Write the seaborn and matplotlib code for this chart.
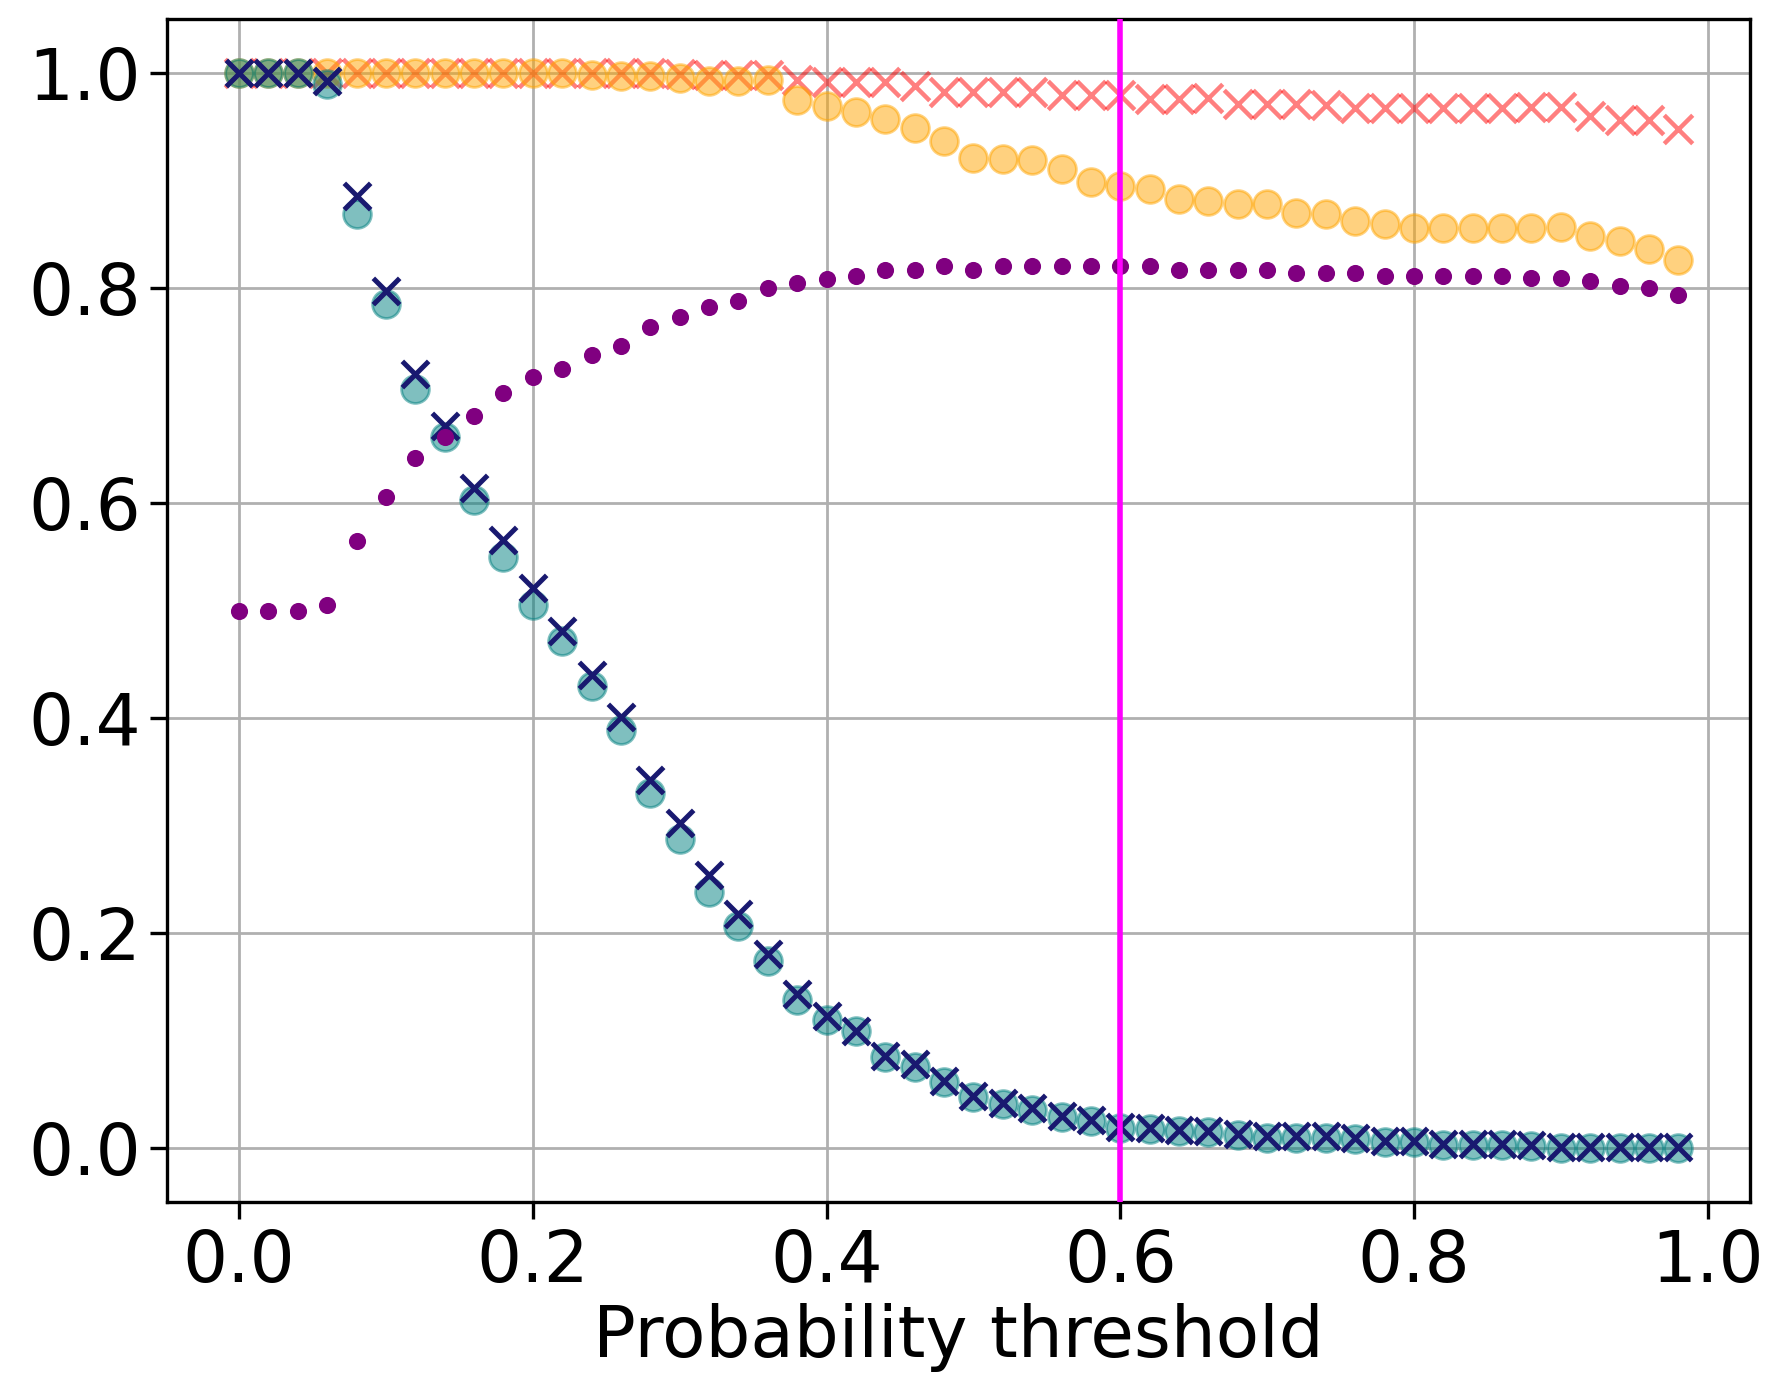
import numpy as np
import pandas as pd
import matplotlib
matplotlib.use("Agg")
import matplotlib.pyplot as plt
import seaborn as sns

thresholds = [0.00, 0.02, 0.04, 0.06, 0.08, 0.10, 0.12, 0.14, 0.16, 0.18,
              0.20, 0.22, 0.24, 0.26, 0.28, 0.30, 0.32, 0.34, 0.36, 0.38,
              0.40, 0.42, 0.44, 0.46, 0.48, 0.50, 0.52, 0.54, 0.56, 0.58,
              0.60, 0.62, 0.64, 0.66, 0.68, 0.70, 0.72, 0.74, 0.76, 0.78,
              0.80, 0.82, 0.84, 0.86, 0.88, 0.90, 0.92, 0.94, 0.96, 0.98]

red_x = [1.000, 1.000, 1.000, 1.000, 1.000, 1.000, 1.000, 1.000, 1.000, 1.000,
         1.000, 1.000, 1.000, 1.000, 1.000, 0.999, 0.998, 0.998, 0.998, 0.993,
         0.991, 0.991, 0.991, 0.988, 0.982, 0.982, 0.982, 0.982, 0.979, 0.979,
         0.979, 0.976, 0.976, 0.977, 0.971, 0.971, 0.971, 0.970, 0.967, 0.967,
         0.967, 0.967, 0.967, 0.967, 0.968, 0.968, 0.960, 0.956, 0.956, 0.948]

orange_o = [1.000, 1.000, 1.000, 1.000, 1.000, 1.000, 1.000, 1.000, 1.000, 1.000,
            1.000, 1.000, 0.998, 0.997, 0.997, 0.995, 0.992, 0.992, 0.993, 0.975,
            0.969, 0.964, 0.957, 0.949, 0.937, 0.921, 0.920, 0.919, 0.911, 0.898,
            0.895, 0.892, 0.883, 0.881, 0.878, 0.878, 0.870, 0.869, 0.862, 0.859,
            0.856, 0.856, 0.856, 0.856, 0.856, 0.857, 0.848, 0.844, 0.836, 0.826]

teal_o = [1.000, 1.000, 1.000, 0.990, 0.869, 0.785, 0.706, 0.661, 0.603, 0.550,
          0.505, 0.472, 0.430, 0.389, 0.330, 0.288, 0.238, 0.207, 0.174, 0.138,
          0.119, 0.109, 0.085, 0.076, 0.062, 0.048, 0.041, 0.036, 0.029, 0.025,
          0.019, 0.018, 0.016, 0.015, 0.012, 0.010, 0.010, 0.010, 0.009, 0.006,
          0.006, 0.003, 0.003, 0.003, 0.002, 0.000, 0.000, 0.000, 0.000, 0.000]

navy_x = [1.000, 1.000, 1.000, 0.992, 0.885, 0.797, 0.720, 0.672, 0.614, 0.566,
          0.521, 0.481, 0.440, 0.401, 0.342, 0.302, 0.254, 0.218, 0.181, 0.143,
          0.123, 0.109, 0.086, 0.078, 0.063, 0.049, 0.042, 0.037, 0.030, 0.026,
          0.020, 0.019, 0.017, 0.016, 0.013, 0.011, 0.011, 0.011, 0.010, 0.007,
          0.007, 0.004, 0.004, 0.004, 0.003, 0.001, 0.001, 0.001, 0.001, 0.001]

purple_dot = [0.500, 0.500, 0.500, 0.505, 0.565, 0.606, 0.642, 0.661, 0.681, 0.702,
              0.717, 0.725, 0.738, 0.746, 0.764, 0.773, 0.782, 0.788, 0.800, 0.805,
              0.808, 0.811, 0.817, 0.817, 0.820, 0.817, 0.820, 0.820, 0.820, 0.820,
              0.820, 0.820, 0.817, 0.817, 0.817, 0.817, 0.814, 0.814, 0.814, 0.811,
              0.811, 0.811, 0.811, 0.811, 0.809, 0.809, 0.806, 0.802, 0.800, 0.793]

chosen_threshold = 0.6

plt.rcParams['font.family'] = ['DejaVu Sans']
plt.rcParams['font.size'] = 25.5

fig = plt.figure(figsize=(8.84, 6.89), dpi=200)
ax = fig.add_axes([0.0945, 0.1277, 0.8955, 0.8585])
ax.set_axisbelow(True)
ax.grid(True, color='#b0b0b0', linewidth=1.0)

sns.scatterplot(x=thresholds, y=red_x, ax=ax, marker='x', color='red',
                alpha=0.5, s=105, linewidth=1.6, zorder=2)
sns.scatterplot(x=thresholds, y=orange_o, ax=ax, marker='o', color='orange',
                edgecolor='orange', alpha=0.5, s=100, linewidth=1.0, zorder=3)
sns.scatterplot(x=thresholds, y=teal_o, ax=ax, marker='o', color='teal',
                edgecolor='teal', alpha=0.5, s=100, linewidth=1.0, zorder=4)
sns.scatterplot(x=thresholds, y=navy_x, ax=ax, marker='x', color='midnightblue',
                s=90, linewidth=1.8, zorder=5)
sns.scatterplot(x=thresholds, y=purple_dot, ax=ax, marker='o', color='purple',
                edgecolor='purple', s=32, linewidth=0.5, zorder=6)

ax.axvline(chosen_threshold, color='magenta', linewidth=2.0, zorder=7)

ax.set_xlim(-0.049, 1.029)
ax.set_ylim(-0.05, 1.05)
ax.set_xticks([0.0, 0.2, 0.4, 0.6, 0.8, 1.0])
ax.set_yticks([0.0, 0.2, 0.4, 0.6, 0.8, 1.0])
ax.set_xticklabels(['0.0', '0.2', '0.4', '0.6', '0.8', '1.0'])
ax.set_yticklabels(['0.0', '0.2', '0.4', '0.6', '0.8', '1.0'])
ax.tick_params(labelsize=25.5, length=6, width=1.2)
for sp in ax.spines.values():
    sp.set_linewidth(1.2)
ax.set_xlabel('Probability threshold', fontsize=25.5, labelpad=2)
ax.set_ylabel('')

fig.savefig('out.png', dpi=200)
